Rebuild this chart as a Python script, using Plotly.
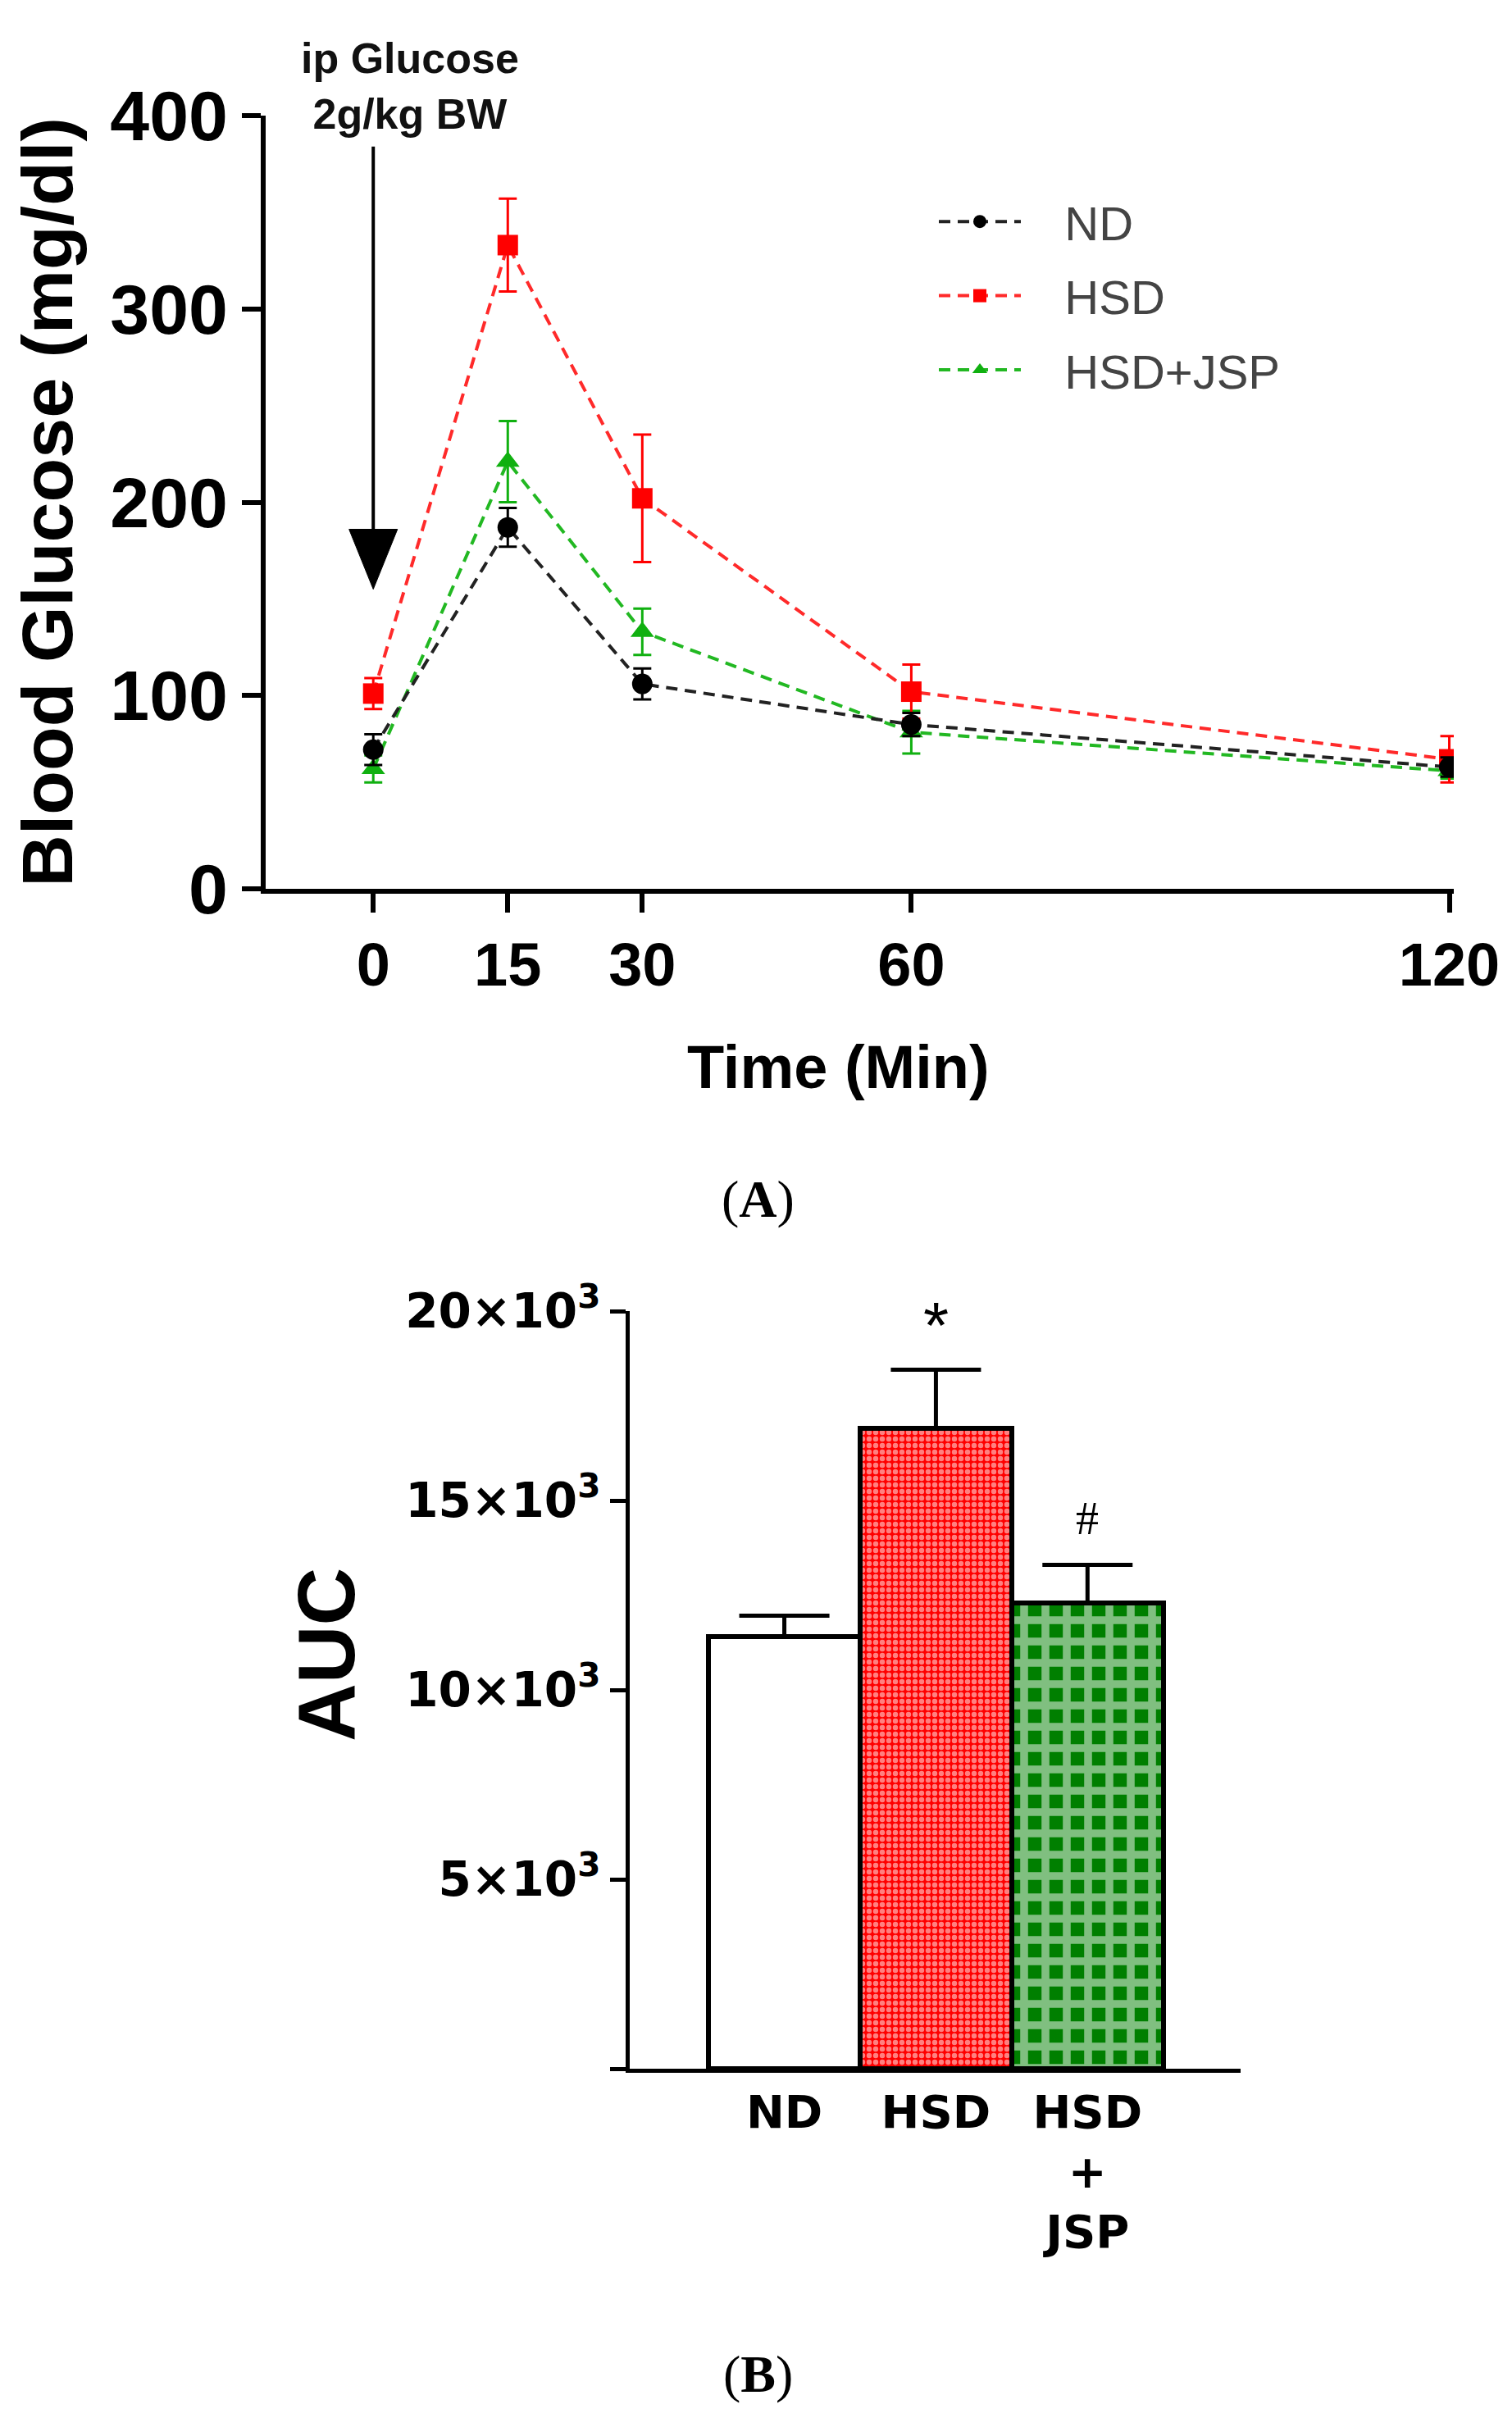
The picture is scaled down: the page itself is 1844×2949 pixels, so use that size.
import plotly.graph_objects as go

# ---- panel A : glucose tolerance test ----
time_min = [0, 15, 30, 60, 120]
nd_mean = [72, 187, 106, 85, 63]
nd_sem = [8, 10, 8, 6, 5]
hsd_mean = [101, 333, 202, 102, 67]
hsd_sem = [8, 24, 33, 14, 12]
jsp_mean = [62, 221, 133, 81, 61]
jsp_sem = [7, 21, 12, 11, 4]

# ---- panel B : area under curve ----
groups = ['ND', 'HSD', 'HSD+JSP']
group_labels = ['ND', 'HSD', 'HSD<br>+<br>JSP']
auc_mean = [11400, 16900, 12300]
auc_sem = [560, 1550, 1000]
auc_marks = ['', '*', '#']

W, H = 1844, 2949
OFF = 8  # page body margin


def px(x):
    return (x - OFF) / W


def py(y):
    return 1 - (y - OFF) / H


SANS = 'Liberation Sans'
WIDE = 'DejaVu Sans'
NBSP = '\u00a0'

fig = go.Figure()

series = [
    ('HSD+JSP', jsp_mean, jsp_sem, '#22B822', '#10B010', 'triangle-up', 3),
    ('HSD', hsd_mean, hsd_sem, '#FF2A2A', '#FF0000', 'square', 2),
    ('ND', nd_mean, nd_sem, '#222222', '#000000', 'circle', 1),
]
for name, mean, sem, lcol, mcol, sym, rank in series:
    fig.add_trace(go.Scatter(
        x=time_min, y=mean, name=NBSP * 3 + name, mode='lines+markers',
        line=dict(color=lcol, width=4, dash='14px,9px'),
        marker=dict(color=mcol, symbol=sym, size=25),
        error_y=dict(type='data', array=sem, color=mcol, thickness=3, width=11),
        legendrank=rank, legendgroup=name, xaxis='x', yaxis='y',
    ))

fills = [
    dict(color='white', line=dict(color='black', width=6)),
    dict(color='#FF0000', line=dict(color='black', width=6),
         pattern=dict(shape='.', fgcolor='white', bgcolor='#FF0000', size=8, solidity=0.5)),
    dict(color='#007F00', line=dict(color='black', width=6),
         pattern=dict(shape='+', fgcolor='white', bgcolor='#007F00', size=26, solidity=0.6)),
]
for g, m, e, mk in zip(groups, auc_mean, auc_sem, fills):
    fig.add_trace(go.Bar(
        x=[g], y=[m], width=1, marker=mk, showlegend=False,
        error_y=dict(type='data', symmetric=False, array=[e], arrayminus=[0],
                     color='black', thickness=5, width=55),
        xaxis='x2', yaxis='y2',
    ))

# stars / hashes above bars
for g, m, e, t in zip(groups, auc_mean, auc_sem, auc_marks):
    if not t:
        continue
    fig.add_annotation(
        x=g, y=m + e, xref='x2', yref='y2', text=t, showarrow=False,
        yanchor='bottom', yshift=8 if t == '*' else 24,
        font=dict(family=SANS if t == '*' else 'Liberation Serif',
                  size=80 if t == '*' else 56, color='black'),
    )

# arrow for ip glucose injection
fig.add_shape(type='line', xref='x', yref='y', x0=0, x1=0, y0=384, y1=180,
              line=dict(color='black', width=4))
fig.add_shape(type='path', xref='x', yref='y', path='M -2.7,186 L 2.7,186 L 0,155 Z',
              fillcolor='black', line=dict(color='black', width=1))
fig.add_annotation(x=px(500), y=py(40), xref='paper', yref='paper',
                   text='<b>ip Glucose<br>2g/kg BW</b>', showarrow=False,
                   xanchor='center', yanchor='top',
                   font=dict(family=SANS, size=52, color='#111111'))

fig.add_annotation(x=px(1022), y=py(1301), xref='paper', yref='paper', text='<b>Time (Min)</b>',
                   showarrow=False, xanchor='center', yanchor='middle',
                   font=dict(family=SANS, size=74, color='black'))
fig.add_annotation(x=px(398), y=py(2018), xref='paper', yref='paper', text='<b>AUC</b>',
                   textangle=-90, showarrow=False, xanchor='center', yanchor='middle',
                   font=dict(family=SANS, size=98, color='black'))
fig.add_annotation(x=px(924), y=py(1462), xref='paper', yref='paper', text='(<b>A</b>)',
                   showarrow=False, xanchor='center', yanchor='middle',
                   font=dict(family='Liberation Serif', size=64, color='black'))
fig.add_annotation(x=px(924), y=py(2895), xref='paper', yref='paper', text='(<b>B</b>)',
                   showarrow=False, xanchor='center', yanchor='middle',
                   font=dict(family='Liberation Serif', size=64, color='black'))

fig.update_layout(
    width=W, height=H, autosize=False,
    margin=dict(l=0, r=0, t=0, b=0, autoexpand=False),
    paper_bgcolor='white', plot_bgcolor='white',
    showlegend=True,
    legend=dict(x=px(1140), y=py(226), xanchor='left', yanchor='top',
                font=dict(family=SANS, size=58, color='#444444'),
                itemwidth=100, bgcolor='rgba(0,0,0,0)',
                traceorder='grouped', tracegroupgap=12),
    xaxis=dict(domain=[px(324), px(1773)], range=[-12, 120.5], anchor='y',
               tickvals=time_min, showline=True, linecolor='black', linewidth=6,
               ticks='outside', ticklen=23, tickwidth=6, tickcolor='black',
               showgrid=False, zeroline=False,
               tickfont=dict(family=SANS, size=74, color='black', weight='bold')),
    yaxis=dict(domain=[py(1084), py(141)], range=[0, 400], anchor='x',
               tickvals=[0, 100, 200, 300, 400], showline=True, linecolor='black', linewidth=6,
               ticks='outside', ticklen=23, tickwidth=6, tickcolor='black',
               showgrid=False, zeroline=False,
               tickfont=dict(family=SANS, size=86, color='black', weight='bold'),
               title=dict(text='Blood Glucose (mg/dl)', standoff=20,
                          font=dict(family=SANS, size=88, color='black', weight='bold'))),
    xaxis2=dict(domain=[px(768), px(1513)], range=[-1.02, 3.01], anchor='y2',
                type='category', categoryorder='array', categoryarray=groups,
                tickvals=groups, ticktext=group_labels,
                showline=True, linecolor='black', linewidth=5, ticks='',
                showgrid=False, zeroline=False,
                tickfont=dict(family=WIDE, size=56, color='black', weight='bold')),
    yaxis2=dict(domain=[py(2523), py(1599)], range=[0, 20000], anchor='x2',
                tickvals=[0, 5000, 10000, 15000, 20000],
                ticktext=['', '5×10<sup>3</sup>', '10×10<sup>3</sup>', '15×10<sup>3</sup>', '20×10<sup>3</sup>'],
                showline=True, linecolor='black', linewidth=5,
                ticks='outside', ticklen=19, tickwidth=5, tickcolor='black',
                showgrid=False, zeroline=False,
                tickfont=dict(family=WIDE, size=58, color='black', weight='bold')),
    bargap=0,
)

fig.write_html('out.html')
